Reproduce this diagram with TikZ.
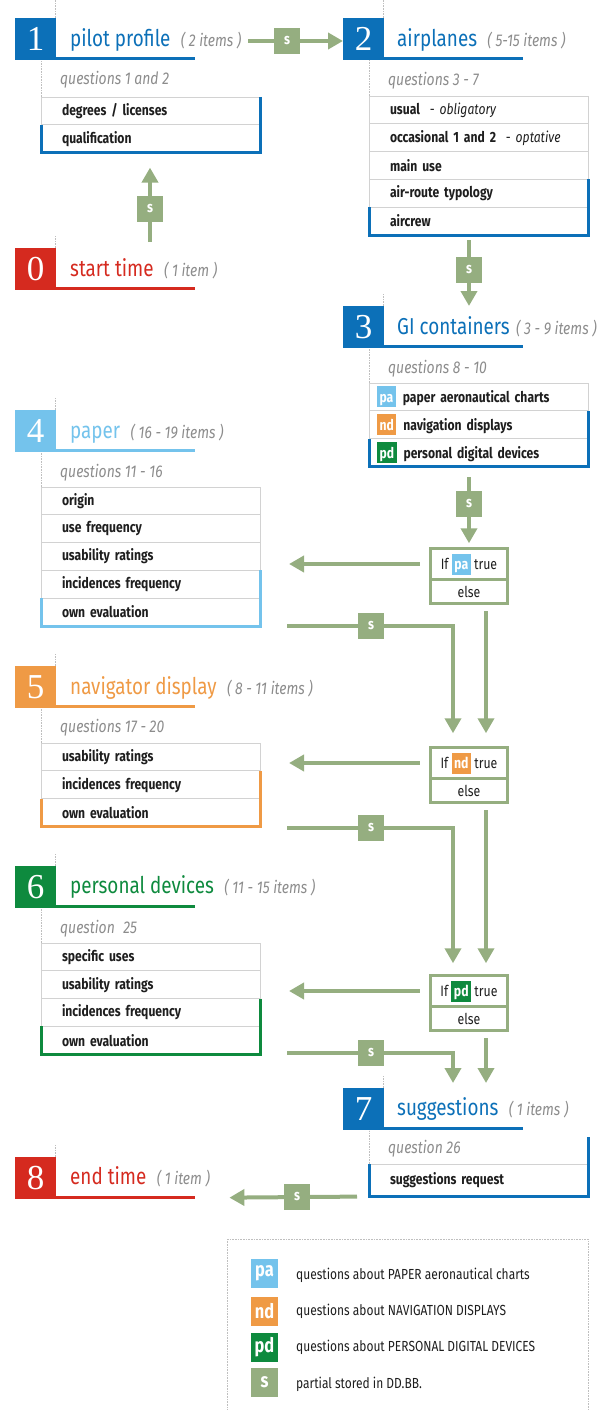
\documentclass[tikz,border=0pt]{standalone}
\usepackage{fontspec}
\setmainfont{Fira Sans}[FakeStretch=0.82]
\newfontfamily\numfont{Liberation Serif}
\usetikzlibrary{positioning}
\usetikzlibrary{arrows.meta}
\definecolor{secblue}{HTML}{0C70B8}
\definecolor{secred}{HTML}{D52A1F}
\definecolor{paperblue}{HTML}{74C3EC}
\definecolor{navorange}{HTML}{EF9A45}
\definecolor{devgreen}{HTML}{0E8A3E}
\definecolor{sage}{HTML}{95AE80}
\definecolor{itemgray}{HTML}{8C8C8C}
\definecolor{rulegray}{HTML}{D2D2D2}
\definecolor{inkgray}{HTML}{1E1E1E}
\newcommand{\badge}[2]{{\setlength{\fboxsep}{0pt}\colorbox{#1}{\rule[-5pt]{0pt}{21pt}\hspace{2.5pt}\textcolor{white}{\bfseries #2}\hspace{2.5pt}}}}

\begin{document}
\begin{tikzpicture}[x=1pt,y=-1pt,
	numbox/.style={fill=#1,text=white,minimum width=41,minimum height=42,inner sep=0,anchor=north west,font=\numfont\fontsize{35}{35}\selectfont},
	uline/.style={draw=#1,line width=3},
	title/.style={text=#1,inner sep=0,anchor=base west,font=\fontsize{23}{23}\selectfont},
	count/.style={text=itemgray,inner sep=0,anchor=base west,font=\itshape\fontsize{17}{17}\selectfont},
	quest/.style={text=itemgray,inner sep=0,anchor=base west,font=\itshape\fontsize{17}{17}\selectfont},
	row/.style={draw=rulegray,line width=0.8,outer sep=0,anchor=north west,minimum height=27.8,text width=177,inner xsep=21,inner ysep=0,align=left,text=inkgray,font=\bfseries\fontsize{14.8}{16}\selectfont},
	tagrow/.style={row,text width=203,inner xsep=8},
	bracket/.style={draw=#1,line width=3},
	guide/.style={draw=black!25,densely dotted,line width=0.6},
	sbox/.style={fill=sage,text=white,minimum size=26,inner sep=0,font=\bfseries\fontsize{15}{15}\selectfont},
	flow/.style={draw=sage,line width=4,-{Triangle[length=15pt,width=16pt]}},
	ifbox/.style={draw=sage,line width=3,outer sep=0,minimum width=77,minimum height=31.5,inner sep=0,text=inkgray,font=\fontsize{15}{15}\selectfont},
	elsebox/.style={ifbox,minimum height=23.5},
	lbadge/.style={fill=#1,text=white,minimum width=27,minimum height=29,inner sep=0,font=\bfseries\fontsize{20}{20}\selectfont},
	ltext/.style={anchor=west,inner sep=0,text=inkgray,font=\fontsize{14.6}{14.6}\selectfont}]
	\useasboundingbox (0,0) rectangle (611,1410);

	% 1 pilot profile
	\node[numbox=secblue] (n1) at (15,18) {1};
	\draw[uline=secblue] ([yshift=1.5pt]n1.south east) -- ++(139,0);
	\node[title=secblue] (t1) at (70,47) {pilot profile};
	\node[count] (c1) at ([xshift=10pt]t1.base east) {( 2 items )};
	\node[quest] (q1) at (60,85) {questions 1 and 2};
	\node[row] (r11) at (41,97) {degrees / licenses};
	\node[row,below=0pt of r11] (r12) {qualification};
	\draw[bracket=secblue] (r11.north east) -- (r12.south east) -- (r12.south west) -- (r12.north west);
	\draw[guide] ([xshift=-1pt]n1.north east) -- ++(0,-18);
	\draw[guide] (r11.north west) -- (r11.north west |- n1.south);

	% 0 start time
	\node[numbox=secred] (n0) at (15,248) {0};
	\draw[uline=secred] ([yshift=1.5pt]n0.south east) -- ++(139,0);
	\node[title=secred] (t0) at (70,276) {start time};
	\node[count] (c0) at ([xshift=10pt]t0.base east) {( 1 item )};
	\draw[guide] ([xshift=-1pt]n0.north east) -- ++(0,-12);

	% 2 airplanes
	\node[numbox=secblue] (n2) at (343,18) {2};
	\draw[uline=secblue] ([yshift=1.5pt]n2.south east) -- ++(139,0);
	\node[title=secblue] (t2) at (397,47) {airplanes};
	\node[count] (c2) at ([xshift=10pt]t2.base east) {( 5-15 items )};
	\node[quest] (q2) at (388,86) {questions 3 - 7};
	\node[row] (r21) at (369,96) {usual\ \ {\mdseries -\ \itshape obligatory}};
	\node[row,below=0pt of r21] (r22) {occasional 1 and 2\ \ {\mdseries -\ \itshape optative}};
	\node[row,below=0pt of r22] (r23) {main use};
	\node[row,below=0pt of r23] (r24) {air-route typology};
	\node[row,below=0pt of r24] (r25) {aircrew};
	\draw[bracket=secblue] (r24.north east) -- (r25.south east) -- (r25.south west) -- (r25.north west);
	\draw[guide] ([xshift=-1pt]n2.north east) -- ++(0,-18);
	\draw[guide] (r21.north west) -- (r21.north west |- n2.south);

	% 3 GI containers
	\node[numbox=secblue] (n3) at (343,306) {3};
	\draw[uline=secblue] ([yshift=1.5pt]n3.south east) -- ++(139,0);
	\node[title=secblue] (t3) at (397,334) {GI containers};
	\node[count] (c3) at ([xshift=6pt]t3.base east) {( 3 - 9 items )};
	\node[quest] (q3) at (388,373) {questions 8 - 10};
	\node[tagrow] (r31) at (369,383) {\badge{paperblue}{pa}\hspace{7pt}paper aeronautical charts};
	\node[tagrow,below=0pt of r31] (r32) {\badge{navorange}{nd}\hspace{7pt}navigation displays};
	\node[tagrow,below=0pt of r32] (r33) {\badge{devgreen}{pd}\hspace{7pt}personal digital devices};
	\draw[bracket=secblue] (r32.north east) -- (r33.south east) -- (r33.south west) -- (r33.north west);
	\draw[guide] ([xshift=-1pt]n3.north east) -- ++(0,-12);
	\draw[guide] (r31.north west) -- (r31.north west |- n3.south);

	% 4 paper
	\node[numbox=paperblue] (n4) at (15,410) {4};
	\draw[uline=paperblue] ([yshift=1.5pt]n4.south east) -- ++(139,0);
	\node[title=paperblue] (t4) at (70,438) {paper};
	\node[count] (c4) at ([xshift=10pt]t4.base east) {( 16 - 19 items )};
	\node[quest] (q4) at (60,477) {questions 11 - 16};
	\node[row] (r41) at (41,487) {origin};
	\node[row,below=0pt of r41] (r42) {use frequency};
	\node[row,below=0pt of r42] (r43) {usability ratings};
	\node[row,below=0pt of r43] (r44) {incidences frequency};
	\node[row,below=0pt of r44] (r45) {own evaluation};
	\draw[bracket=paperblue] (r44.north east) -- (r45.south east) -- (r45.south west) -- (r45.north west);
	\draw[guide] ([xshift=-1pt]n4.north east) -- ++(0,-12);
	\draw[guide] (r41.north west) -- (r41.north west |- n4.south);

	% 5 navigator display
	\node[numbox=navorange] (n5) at (15,666) {5};
	\draw[uline=navorange] ([yshift=1.5pt]n5.south east) -- ++(139,0);
	\node[title=navorange] (t5) at (70,694) {navigator display};
	\node[count] (c5) at ([xshift=10pt]t5.base east) {( 8 - 11 items )};
	\node[quest] (q5) at (60,732) {questions 17 - 20};
	\node[row] (r51) at (41,743) {usability ratings};
	\node[row,below=0pt of r51] (r52) {incidences frequency};
	\node[row,below=0pt of r52] (r53) {own evaluation};
	\draw[bracket=navorange] (r52.north east) -- (r53.south east) -- (r53.south west) -- (r53.north west);
	\draw[guide] ([xshift=-1pt]n5.north east) -- ++(0,-12);
	\draw[guide] (r51.north west) -- (r51.north west |- n5.south);

	% 6 personal devices
	\node[numbox=devgreen] (n6) at (15,866) {6};
	\draw[uline=devgreen] ([yshift=1.5pt]n6.south east) -- ++(139,0);
	\node[title=devgreen] (t6) at (70,893) {personal devices};
	\node[count] (c6) at ([xshift=10pt]t6.base east) {( 11 - 15 items )};
	\node[quest] (q6) at (60,933) {question\enspace 25};
	\node[row] (r61) at (41,943) {specific uses};
	\node[row,below=0pt of r61] (r62) {usability ratings};
	\node[row,below=0pt of r62] (r63) {incidences frequency};
	\node[row,below=0pt of r63] (r64) {own evaluation};
	\draw[bracket=devgreen] (r63.north east) -- (r64.south east) -- (r64.south west) -- (r64.north west);
	\draw[guide] ([xshift=-1pt]n6.north east) -- ++(0,-12);
	\draw[guide] (r61.north west) -- (r61.north west |- n6.south);

	% 7 suggestions
	\node[numbox=secblue] (n7) at (343,1088) {7};
	\draw[uline=secblue] ([yshift=1.5pt]n7.south east) -- ++(139,0);
	\node[title=secblue] (t7) at (397,1115) {suggestions};
	\node[count] (c7) at ([xshift=10pt]t7.base east) {( 1 items )};
	\node[quest] (q7) at (388,1153) {question 26};
	\node[row,minimum height=32.5] (r71) at (369,1164) {suggestions request};
	\draw[bracket=secblue] ([yshift=27pt]r71.north east) -- (r71.south east) -- (r71.south west) -- (r71.north west);
	\draw[guide] ([xshift=-1pt]n7.north east) -- ++(0,-12);
	\draw[guide] (r71.north west) -- (r71.north west |- n7.south);

	% 8 end time
	\node[numbox=secred] (n8) at (15,1157) {8};
	\draw[uline=secred] ([yshift=1.5pt]n8.south east) -- ++(139,0) coordinate (u8);
	\node[title=secred] (t8) at (70,1184) {end time};
	\node[count] (c8) at ([xshift=10pt]t8.base east) {( 1 item )};
	\draw[guide] ([xshift=-1pt]n8.north east) -- ++(0,-12);

	% decisions
	\node[ifbox] (if1) at (469,564) {If \badge{paperblue}{pa} true};
	\node[elsebox,below=0pt of if1] (el1) {else};
	\node[ifbox] (if2) at (469,763) {If \badge{navorange}{nd} true};
	\node[elsebox,below=0pt of if2] (el2) {else};
	\node[ifbox] (if3) at (469,991) {If \badge{devgreen}{pd} true};
	\node[elsebox,below=0pt of if3] (el3) {else};

	% flow
	\coordinate (a0) at (150,242);
	\draw[flow,shorten >=15pt] (a0) -- (a0 |- r12.south);
	\node[sbox] (s0) at (150,209) {s};
	\coordinate (a1) at (248,41);
	\draw[flow] (a1) -- (a1 -| n2.west);
	\node[sbox] (s1) at (287,41) {s};
	\coordinate (a2) at (469,240);
	\draw[flow] (a2) -- (a2 |- n3.north);
	\node[sbox] (s2) at (469,270) {s};
	\coordinate (a3) at (469,477);
	\draw[flow,shorten >=5pt] (a3) -- (if1.north);
	\node[sbox] (s3) at (469,504) {s};

	\draw[flow,shorten <=11pt,shorten >=29pt] (if1.west) -- (if1.west -| r44.east);
	\coordinate (b1) at (287,626);
	\draw[flow,shorten >=14pt] (b1) -| ([xshift=-16pt]if2.north);
	\node[sbox] (s4) at (371,626) {s};
	\draw[flow,shorten <=8pt,shorten >=14pt] ([xshift=17pt]el1.south) -- ([xshift=17pt]if2.north);

	\draw[flow,shorten <=11pt,shorten >=29pt] (if2.west) -- (if2.west -| r52.east);
	\coordinate (b2) at (287,828);
	\draw[flow,shorten >=12pt] (b2) -| ([xshift=-16pt]if3.north);
	\node[sbox] (s5) at (371,828) {s};
	\draw[flow,shorten <=8pt,shorten >=12pt] ([xshift=17pt]el2.south) -- ([xshift=17pt]if3.north);

	\draw[flow,shorten <=11pt,shorten >=29pt] (if3.west) -- (if3.west -| r62.east);
	\coordinate (b3) at (287,1053);
	\draw[flow,shorten >=5pt] (b3) -| ([xshift=-16pt]if3.south |- n7.north);
	\node[sbox] (s6) at (371,1053) {s};
	\draw[flow,shorten <=8pt,shorten >=5pt] ([xshift=17pt]el3.south) -- ([xshift=17pt]el3.south |- n7.north);

	\draw[flow,shorten <=12pt,shorten >=34pt] (r71.south west) -- (u8);
	\node[sbox] (s7) at (297,1197) {s};

	% legend
	\draw[guide] (227,1239) rectangle (588,1415);
	\node[lbadge=paperblue] (lpa) at (264.5,1273) {pa};
	\node[ltext] (lta) at (296,1275) {questions about PAPER aeronautical charts};
	\node[lbadge=navorange] (lnd) at (264.5,1311) {nd};
	\node[ltext] (ltb) at (296,1311) {questions about NAVIGATION DISPLAYS};
	\node[lbadge=devgreen] (lpd) at (264.5,1347) {pd};
	\node[ltext] (ltc) at (296,1347) {questions about PERSONAL DIGITAL DEVICES};
	\node[lbadge=sage] (ls) at (264.5,1382) {s};
	\node[ltext] (ltd) at (296,1384) {partial stored in DD.BB.};
\end{tikzpicture}
\end{document}
